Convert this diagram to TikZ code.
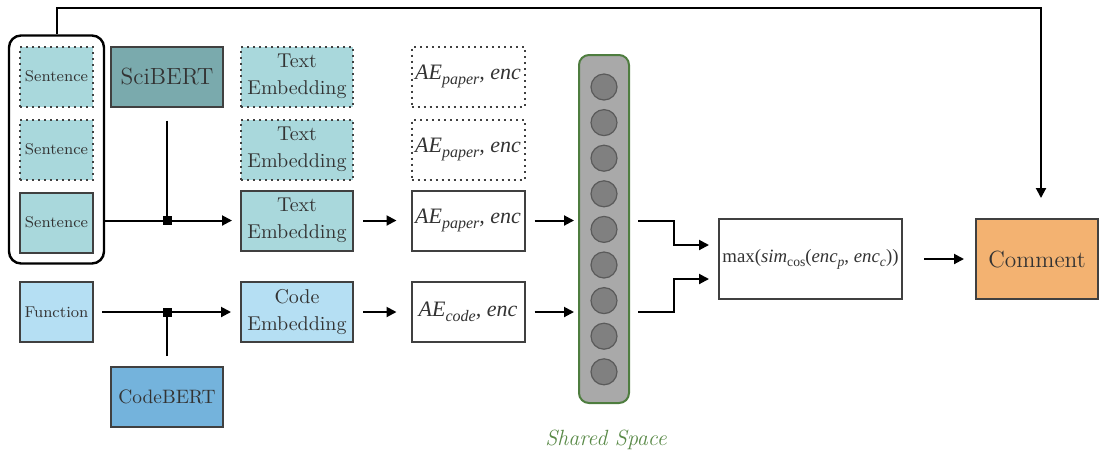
\documentclass[tikz,border=0pt]{standalone}
\usepackage{fontspec}
\usepackage{tikz}
\usetikzlibrary{arrows.meta,positioning,fit}
\newfontfamily\tms{Liberation Serif}
\definecolor{SentFill}{HTML}{A9D8DC}
\definecolor{SciFill}{HTML}{7AAAAD}
\definecolor{FnFill}{HTML}{B5DFF3}
\definecolor{CbFill}{HTML}{74B3DC}
\definecolor{CmFill}{HTML}{F3B271}
\definecolor{BoxLine}{HTML}{404040}
\definecolor{ColFill}{HTML}{A9A9A9}
\definecolor{ColLine}{HTML}{4E7D3F}
\definecolor{UnitFill}{HTML}{808080}
\definecolor{UnitLine}{HTML}{5A5A5A}
\definecolor{SpaceText}{HTML}{5A8A48}
\newcommand{\aesub}[2][8]{\raisebox{-0.45ex}{\fontsize{#1}{#1}\selectfont #2}}

\begin{document}
\begin{tikzpicture}[
        x=0.5pt,y=-0.5pt,
        box/.style={draw=BoxLine,line width=1pt,inner sep=0pt,minimum width=56pt,minimum height=30pt,align=center,text=black!80},
        sent/.style={box,fill=SentFill,minimum width=36.5pt,font=\fontsize{7.8}{9}\selectfont},
        emb/.style={box,fill=SentFill,font=\fontsize{10}{13.5}\selectfont},
        enc/.style={box,fill=white,minimum width=56.5pt,font=\tms\fontsize{11}{13}\selectfont\itshape},
        ghost/.style={dotted},
        unit/.style={circle,draw=UnitLine,fill=UnitFill,line width=0.6pt,minimum size=13pt,inner sep=0pt},
        jn/.style={fill=black,inner sep=0pt,minimum size=4.5pt},
        arr/.style={-{Triangle[length=5pt,width=5pt]},line width=1pt},
        line/.style={line width=1pt}
      ]
        \useasboundingbox (0,0) rectangle (1099,457);
        % text side
        \node[sent,ghost] (s1) at (56.5,76.5) {Sentence};
        \node[sent,ghost,below=5.5pt of s1] (s2) {Sentence};
        \node[sent,below=5.5pt of s2] (s3) {Sentence};
        \node[draw,line width=1.2pt,rounded corners=6pt,inner sep=5pt,fit=(s1)(s3)] (doc) {};
        \node[box,fill=SciFill,font=\fontsize{11.7}{13}\selectfont] (sci) at (167,76.5) {SciBERT};
        \node[emb,ghost] (te1) at (297,76.5) {Text\\Embedding};
        \node[emb,ghost,below=5.5pt of te1] (te2) {Text\\Embedding};
        \node[emb,below=4.5pt of te2] (te3) {Text\\Embedding};
        % code side
        \node[sent,fill=FnFill] (fn) at (56.5,312) {Function};
        \node[emb,fill=FnFill] (ce) at (297,312) {Code\\Embedding};
        \node[box,fill=CbFill,font=\fontsize{9.7}{11}\selectfont] (cb) at (167,397) {CodeBERT};
        % encoders
        \node[enc,ghost] (ae1) at (468,76.5) {AE\aesub{paper}, enc};
        \node[enc,ghost,below=5.5pt of ae1] (ae2) {AE\aesub{paper}, enc};
        \node[enc,below=4.5pt of ae2] (ae3) {AE\aesub{paper}, enc};
        \node[enc] (aec) at (468,312) {AE\aesub{code}, enc};
        % shared space
        \node[draw=ColLine,fill=ColFill,line width=1pt,rounded corners=5pt,minimum width=25pt,minimum height=174pt] (col) at (604,229) {};
        \foreach \i in {0,...,8}
          \node[unit] (u\i) at (604,87+35.6*\i) {};
        \node[text=SpaceText,font=\fontsize{11}{13}\selectfont\itshape] (lbl) at (606,440) {Shared Space};
        % similarity and output
        \node[box,fill=white,minimum width=91.5pt,minimum height=40pt,font=\tms\fontsize{9.4}{11}\selectfont] (mx) at (810.5,259)
          {max(\textit{sim}\aesub[6.8]{cos}(\textit{enc}\aesub[6.8]{\itshape p}, \textit{enc}\aesub[6.8]{\itshape c}))};
        \node[box,fill=CmFill,minimum width=61pt,minimum height=40pt,font=\fontsize{11.7}{13}\selectfont] (cm) at (1037,259) {Comment};
        % connectors
        \node[jn] (j1) at (sci |- te3) {};
        \node[jn] (j2) at (sci |- ce) {};
        \draw[arr,shorten >=4pt] (doc.east |- te3) -- (te3);
        \draw[line,shorten <=6.5pt] (sci.south) -- (j1);
        \draw[arr,shorten <=4pt,shorten >=4.5pt] (fn) -- (ce);
        \draw[line,shorten <=5pt] (cb.north) -- (j2);
        \draw[arr,shorten <=4.5pt,shorten >=7pt] (te3) -- (ae3);
        \draw[arr,shorten <=4.5pt,shorten >=7pt] (ce) -- (aec);
        \draw[arr,shorten <=4.5pt,shorten >=2pt] (ae3) -- (ae3 -| col.west);
        \draw[arr,shorten <=4.5pt,shorten >=2pt] (aec) -- (aec -| col.west);
        \draw[arr,shorten <=4pt,shorten >=4.5pt] (ae3 -| col.east) -- ++(44,0) |- ([yshift=7pt]mx.west);
        \draw[arr,shorten <=4pt,shorten >=4.5pt] (aec -| col.east) -- ++(44,0) |- ([yshift=-10pt]mx.west);
        \draw[arr,shorten <=10.5pt,shorten >=5.5pt] (mx) -- (cm);
        \coordinate (fb) at (1041,8);
        \draw[arr,shorten >=10pt] (doc.north) |- (fb) -- (fb |- cm.north);
      \end{tikzpicture}
\end{document}
